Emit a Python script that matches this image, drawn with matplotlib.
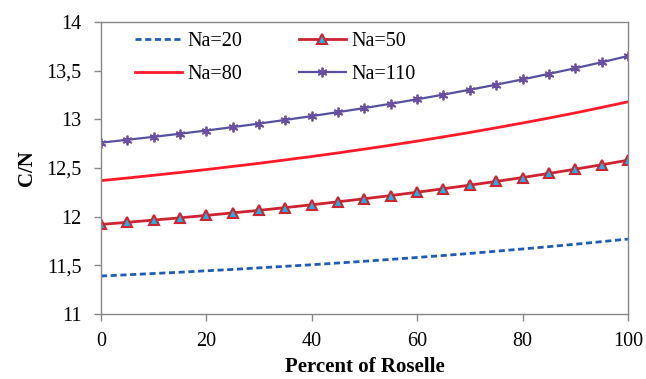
import matplotlib.pyplot as plt
from matplotlib.ticker import FuncFormatter

# Percent of Roselle
pct = [0, 5, 10, 15, 20, 25, 30, 35, 40, 45, 50,
       55, 60, 65, 70, 75, 80, 85, 90, 95, 100]

# C/N for each Na level
cn_na20 = [11.390, 11.403, 11.416, 11.429, 11.444, 11.458, 11.474, 11.490, 11.506, 11.524, 11.542,
           11.561, 11.581, 11.601, 11.622, 11.645, 11.668, 11.692, 11.717, 11.743, 11.770]
cn_na50 = [11.920, 11.942, 11.965, 11.988, 12.013, 12.039, 12.065, 12.093, 12.122, 12.153, 12.184,
           12.217, 12.251, 12.287, 12.324, 12.362, 12.402, 12.444, 12.488, 12.533, 12.580]
cn_na80 = [12.370, 12.397, 12.425, 12.454, 12.484, 12.516, 12.548, 12.583, 12.618, 12.655, 12.694,
           12.734, 12.776, 12.820, 12.865, 12.913, 12.962, 13.013, 13.066, 13.122, 13.180]
cn_na110 = [12.760, 12.790, 12.820, 12.852, 12.885, 12.920, 12.956, 12.994, 13.033, 13.074, 13.116,
            13.160, 13.206, 13.254, 13.304, 13.356, 13.410, 13.467, 13.525, 13.586, 13.650]

plt.rcParams['font.family'] = ['Liberation Serif', 'DejaVu Serif']

fig = plt.figure(figsize=(6.46, 3.79), dpi=100)
ax = fig.add_axes([0.1563, 0.1715, 0.8157, 0.7705])

l20, = ax.plot(pct, cn_na20, color='#1f5cb4', linestyle=(0, (2.2, 1.3)), linewidth=2, label='Na=20')
l50, = ax.plot(pct, cn_na50, color='#cc2430', linewidth=2, marker='^', markersize=7.5,
               markerfacecolor='#22b0e6', markeredgecolor='#cc2430', markeredgewidth=1.5, label='Na=50')
l80, = ax.plot(pct, cn_na80, color='#ff1a2a', linewidth=2, label='Na=80')
l110, = ax.plot(pct, cn_na110, color='#56519e', linewidth=1.6, marker=(6, 2, 0), markersize=7,
                markeredgecolor='#6a4f9e', markeredgewidth=1.3, label='Na=110')

ax.set_xlim(0, 100)
ax.set_ylim(11, 14)
ax.set_xticks([0, 20, 40, 60, 80, 100])
ax.set_yticks([11, 11.5, 12, 12.5, 13, 13.5, 14])
ax.yaxis.set_major_formatter(FuncFormatter(lambda v, p: f'{v:g}'.replace('.', ',')))

for s in ax.spines.values():
    s.set_color('#878787')
    s.set_linewidth(1)
ax.tick_params(axis='both', direction='out', length=5, width=1, color='#878787', labelsize=14.5)
ax.tick_params(axis='x', pad=8)
ax.tick_params(axis='y', pad=9)

ax.set_xlabel('Percent of Roselle', fontsize=15, fontweight='bold', labelpad=4)
ax.set_ylabel('C/N', fontsize=15, fontweight='bold', labelpad=7)

# row-wise legend order: Na=20, Na=50 / Na=80, Na=110
ax.legend([l20, l80, l50, l110], ['Na=20', 'Na=80', 'Na=50', 'Na=110'],
          loc='upper left', bbox_to_anchor=(0.0645, 0.966), ncol=2, frameon=False,
          fontsize=14.5, handlelength=2.35, handletextpad=0.25, columnspacing=2.8,
          labelspacing=0.7, borderaxespad=0, borderpad=0)

fig.savefig('out.png', dpi=100)
